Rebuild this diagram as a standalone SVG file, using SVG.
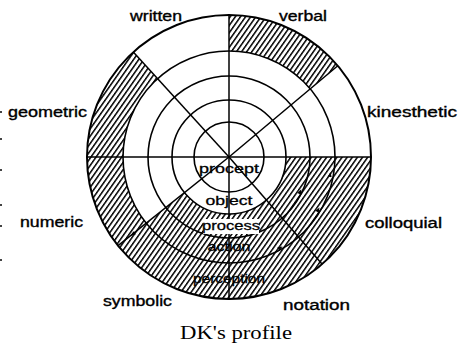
<svg xmlns="http://www.w3.org/2000/svg" width="466" height="346" viewBox="0 0 466 346">
<defs>
<pattern id="hatch" patternUnits="userSpaceOnUse" width="4.2" height="4.2" patternTransform="rotate(35)">
<rect x="0" y="0" width="1.5" height="4.2" fill="#000"/>
</pattern>
<style>
.ring{fill:none;stroke:#000;stroke-width:1.6}
.outer{fill:none;stroke:#000;stroke-width:2}
.rad{stroke:#000;stroke-width:1.5;fill:none}
.hat{fill:url(#hatch);stroke:none}
.lbl{font-family:"Liberation Sans",Arial,sans-serif;font-size:14px;fill:#000;stroke:#000;stroke-width:0.35}
.in{font-family:"Liberation Sans",Arial,sans-serif;font-size:13px;fill:#000;stroke:#000;stroke-width:0.3;text-anchor:middle}
.cap{font-family:"Liberation Serif","Times New Roman",serif;font-size:18px;fill:#000}
.arr{fill:#000}
.dot{fill:#444}
</style>
</defs>
<rect width="466" height="346" fill="#fff"/>
<g id="hatching">
<path class="hat" d="M229 15 A142 142 0 0 1 337.8 65.7 L310.2 88.9 A106 106 0 0 0 229 51 Z"/>
<path class="hat" d="M133.3 52.1 A142 142 0 0 0 87 157 L123 157 A106 106 0 0 1 157.6 78.7 Z"/>
<path class="hat" d="M87 157 A142 142 0 0 0 118.1 245.6 L146.2 223.1 A106 106 0 0 1 123 157 Z"/>
<path class="hat" d="M118.1 245.6 A142 142 0 0 0 371 157 L286 157 A57 57 0 0 1 184.5 192.6 Z"/>
</g>
<g id="connectors">
<circle class="ring" cx="229" cy="157" r="35"/>
<circle class="ring" cx="229" cy="157" r="57"/>
<circle class="ring" cx="229" cy="157" r="81"/>
<circle class="ring" cx="229" cy="157" r="106"/>
<circle class="outer" cx="229" cy="157" r="142"/>
<line class="rad" x1="229" y1="15" x2="229" y2="299"/>
<line class="rad" x1="87" y1="157" x2="371" y2="157"/>
<line class="rad" x1="229" y1="157" x2="337.8" y2="65.7"/>
<line class="rad" x1="229" y1="157" x2="133.3" y2="52.1"/>
<line class="rad" x1="229" y1="157" x2="118.1" y2="245.6"/>
<line class="rad" x1="229" y1="157" x2="322.2" y2="264.2"/>
<polygon class="arr" points="301.3,189.3 300.9,194.7 297.3,192.9"/>
<polygon class="arr" points="319.5,207.4 318.7,212.7 315.3,210.7"/>
<polygon class="arr" points="282.6,246.5 279.3,250.7 277.3,247.3"/>
<polygon class="arr" points="330.5,172.0 331.7,177.3 327.7,176.6"/>
<polygon class="arr" points="130.7,235.9 135.8,234.3 133.4,231.2"/>
</g>
<g id="ring-labels">
<text class="in" x="229" y="173" textLength="60" lengthAdjust="spacingAndGlyphs">procept</text>
<text class="in" x="229" y="205" textLength="47" lengthAdjust="spacingAndGlyphs">object</text>
<rect x="203" y="219" width="56" height="15" fill="#fff"/>
<text class="in" x="231" y="230" textLength="58" lengthAdjust="spacingAndGlyphs">process</text>
<text class="in" x="229" y="251" textLength="43" lengthAdjust="spacingAndGlyphs">action</text>
<text class="in" x="229" y="283" textLength="72" lengthAdjust="spacingAndGlyphs">perception</text>
</g>
<g id="written"><text class="lbl" x="130" y="21" textLength="52" lengthAdjust="spacingAndGlyphs">written</text></g>
<g id="verbal"><text class="lbl" x="279" y="21" textLength="48" lengthAdjust="spacingAndGlyphs">verbal</text></g>
<g id="kinesthetic"><text class="lbl" x="367" y="117" textLength="90" lengthAdjust="spacingAndGlyphs">kinesthetic</text></g>
<g id="colloquial"><text class="lbl" x="365" y="228" textLength="77" lengthAdjust="spacingAndGlyphs">colloquial</text></g>
<g id="notation"><text class="lbl" x="283" y="310" textLength="67" lengthAdjust="spacingAndGlyphs">notation</text></g>
<g id="symbolic"><text class="lbl" x="103" y="306" textLength="69" lengthAdjust="spacingAndGlyphs">symbolic</text></g>
<g id="numeric"><text class="lbl" x="20" y="227" textLength="63" lengthAdjust="spacingAndGlyphs">numeric</text></g>
<g id="geometric"><text class="lbl" x="8" y="117" textLength="79" lengthAdjust="spacingAndGlyphs">geometric</text></g>
<g id="caption"><text class="cap" x="180" y="339" textLength="112" lengthAdjust="spacingAndGlyphs">DK's profile</text></g>
<g id="edge-marks">
<rect class="dot" x="0" y="111" width="2" height="2"/>
<rect class="dot" x="0" y="138" width="2" height="2"/>
<rect class="dot" x="0" y="169" width="2" height="2"/>
<rect class="dot" x="0" y="204" width="2" height="2"/>
<rect class="dot" x="0" y="225" width="2" height="2"/>
<rect class="dot" x="0" y="259" width="2" height="2"/>
</g>
</svg>
